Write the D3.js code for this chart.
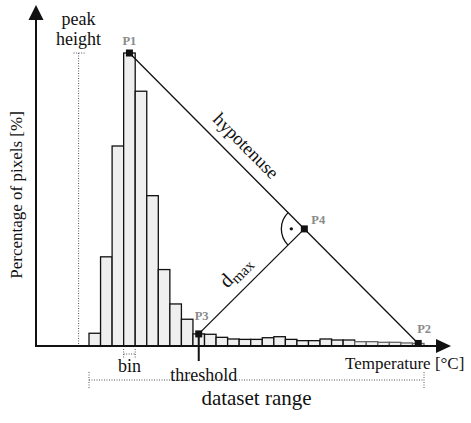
<!DOCTYPE html>
<html>
<head>
<meta charset="utf-8">
<script src="https://cdn.jsdelivr.net/npm/d3@7"></script>
<style>
  html, body { margin: 0; padding: 0; background: #fff; }
  svg { display: block; font-family: "Liberation Serif", "Times New Roman", serif; }
</style>
</head>
<body>
<svg id="chart" width="471" height="423"></svg>
<script>
// share of pixels in each temperature bin [%]
const pixelPercent = [1.0, 7.0, 15.7, 23.0, 20.0, 11.8, 6.0, 3.3, 2.1, 0.95,
  0.92, 0.68, 0.55, 0.52, 0.52, 0.65, 0.73, 0.52, 0.42, 0.42,
  0.55, 0.47, 0.47, 0.34, 0.34, 0.29, 0.29, 0.24, 0.2];
const thresholdBin = 9;          // bin that holds P3
const pointNames = ["P1", "P2", "P3", "P4"];
const xTitle = "Temperature [°C]";
const yTitle = "Percentage of pixels [%]";

const axisX = 36, axisY = 346;
const ink = "#111", grey = "#8a8a8a";

const svg = d3.select("#chart");
const x = d3.scaleLinear().domain([0, pixelPercent.length]).range([89, 424]);
const y = d3.scaleLinear().domain([0, d3.max(pixelPercent)]).range([axisY, 53]);
const bw = x(1) - x(0);

/* ── bars ─────────────────────────────────────────── */
svg.append("g").selectAll("rect")
  .data(pixelPercent).join("rect")
  .attr("x", (d, i) => x(i)).attr("y", d => y(d))
  .attr("width", bw).attr("height", d => axisY - y(d))
  .attr("fill", "#efefef")
  .attr("stroke", (d, i) => i > 22 ? "#666" : ink)
  .attr("stroke-width", 1.3);

/* ── axes (arrows) ────────────────────────────────── */
const axes = svg.append("g").attr("stroke", ink).attr("stroke-width", 2).attr("fill", "none");
axes.append("line").attr("x1", axisX).attr("y1", axisY + 1).attr("x2", axisX).attr("y2", 18);
axes.append("line").attr("x1", axisX - 1).attr("y1", axisY).attr("x2", 438).attr("y2", axisY);
svg.append("path").attr("d", `M${axisX},5L${axisX + 7.5},20L${axisX - 7.5},20Z`).attr("fill", ink);
svg.append("path").attr("d", `M451,${axisY}L436,${axisY - 7}L436,${axisY + 7}Z`).attr("fill", ink);

/* ── key points ───────────────────────────────────── */
const n = pixelPercent.length;
const peakI = d3.maxIndex(pixelPercent);
const P1 = [x(peakI + 0.5), y(pixelPercent[peakI])];
const P2 = [x(n - 0.5), y(pixelPercent[n - 1])];
const P3 = [x(thresholdBin + 0.5), y(pixelPercent[thresholdBin])];
// foot of the perpendicular from P3 onto the hypotenuse
const hx = P2[0] - P1[0], hy = P2[1] - P1[1], hl = Math.hypot(hx, hy);
const ux = hx / hl, uy = hy / hl;
const tP = (P3[0] - P1[0]) * ux + (P3[1] - P1[1]) * uy;
const P4 = [P1[0] + tP * ux, P1[1] + tP * uy];
const pts = [P1, P2, P3, P4];

// peak height marker
const peakX = x(-0.9);
const dotted = svg.append("g").attr("stroke", "#555").attr("stroke-width", 1)
  .attr("stroke-dasharray", "1,1.5").attr("fill", "none");
dotted.append("line").attr("x1", peakX).attr("y1", P1[1]).attr("x2", peakX).attr("y2", axisY - 1);
dotted.append("line").attr("x1", peakX - 5).attr("y1", P1[1]).attr("x2", peakX + 6).attr("y2", P1[1]);

// bin bracket
const bx0 = x(peakI), bx1 = x(peakI + 1);
dotted.append("line").attr("x1", bx0).attr("y1", 349).attr("x2", bx0).attr("y2", 358);
dotted.append("line").attr("x1", bx1).attr("y1", 349).attr("x2", bx1).attr("y2", 358);
dotted.append("line").attr("x1", bx0).attr("y1", 354).attr("x2", bx1).attr("y2", 354);

// dataset range bracket
const rx0 = x(0), rx1 = x(n);
dotted.append("line").attr("x1", rx0).attr("y1", 380).attr("x2", rx1).attr("y2", 380);
dotted.append("line").attr("x1", rx0).attr("y1", 372).attr("x2", rx0).attr("y2", 388);
dotted.append("line").attr("x1", rx1).attr("y1", 372).attr("x2", rx1).attr("y2", 388);

// threshold tick
svg.append("line").attr("x1", P3[0]).attr("y1", P3[1]).attr("x2", P3[0]).attr("y2", 361)
  .attr("stroke", ink).attr("stroke-width", 2);

// hypotenuse and d_max
const geo = svg.append("g").attr("stroke", ink).attr("stroke-width", 1.3).attr("fill", "none");
geo.append("line").attr("x1", P1[0]).attr("y1", P1[1]).attr("x2", P2[0]).attr("y2", P2[1]);
geo.append("line").attr("x1", P3[0]).attr("y1", P3[1]).attr("x2", P4[0]).attr("y2", P4[1]);

// right angle symbol
const ra = 23;
const a1 = Math.atan2(P1[1] - P4[1], P1[0] - P4[0]);
const a2 = Math.atan2(P3[1] - P4[1], P3[0] - P4[0]);
geo.append("path").attr("d",
  `M${P4[0] + ra * Math.cos(a1)},${P4[1] + ra * Math.sin(a1)}` +
  `A${ra},${ra} 0 0 0 ${P4[0] + ra * Math.cos(a2)},${P4[1] + ra * Math.sin(a2)}`);
const am = (a1 + a2 + 2 * Math.PI) / 2;
svg.append("circle").attr("cx", P4[0] + 13 * Math.cos(am)).attr("cy", P4[1] + 13 * Math.sin(am))
  .attr("r", 1.7).attr("fill", ink);

// point markers
svg.append("g").selectAll("rect").data(pts).join("rect")
  .attr("x", d => d[0] - 3.5).attr("y", d => d[1] - 3.5)
  .attr("width", 7).attr("height", 7).attr("fill", ink);

const labelOff = [[0, -8, "middle"], [-1, -10, "start"], [-4, -14, "start"], [7, -5, "start"]];
svg.append("g").selectAll("text").data(pts).join("text")
  .attr("x", (d, i) => d[0] + labelOff[i][0]).attr("y", (d, i) => d[1] + labelOff[i][1])
  .attr("text-anchor", (d, i) => labelOff[i][2])
  .attr("fill", grey).style("font-size", "12.5px").style("font-weight", "bold")
  .text((d, i) => pointNames[i]);

/* ── text ─────────────────────────────────────────── */
const txt = (tx, ty, s, size, anchor) => svg.append("text")
  .attr("x", tx).attr("y", ty).attr("text-anchor", anchor || "middle")
  .style("font-size", size + "px").attr("fill", ink).text(s);

txt(peakX, 25, "peak", 18);
txt(peakX, 45, "height", 18);
txt(bx0 + bw / 2, 372, "bin", 18);
txt(P3[0] + 5, 381, "threshold", 18);
txt(345, 369, xTitle, 17, "start");
txt((rx0 + rx1) / 2, 405, "dataset range", 21);
svg.append("text").attr("transform", `translate(22,195) rotate(-90)`)
  .attr("text-anchor", "middle").style("font-size", "17px").attr("fill", ink).text(yTitle);

// hypotenuse label, along the line
const hAng = Math.atan2(hy, hx) * 180 / Math.PI;
const hs = 148, hOff = 11;
svg.append("text")
  .attr("transform", `translate(${P1[0] + hs * ux + hOff * uy},${P1[1] + hs * uy - hOff * ux}) rotate(${hAng})`)
  .attr("text-anchor", "middle").style("font-size", "18.5px").attr("fill", ink).text("hypotenuse");

// d_max label
const dx = P4[0] - P3[0], dy = P4[1] - P3[1], dl = Math.hypot(dx, dy);
const vx = dx / dl, vy = dy / dl;
const ds = 52, dOff = 12;
const dLab = svg.append("text")
  .attr("transform", `translate(${P3[0] + ds * vx + dOff * vy},${P3[1] + ds * vy - dOff * vx}) rotate(${Math.atan2(dy, dx) * 180 / Math.PI})`)
  .style("font-size", "20px").attr("fill", ink);
dLab.append("tspan").text("d");
dLab.append("tspan").attr("dy", 4).style("font-size", "15px").text("max");
</script>
</body>
</html>
